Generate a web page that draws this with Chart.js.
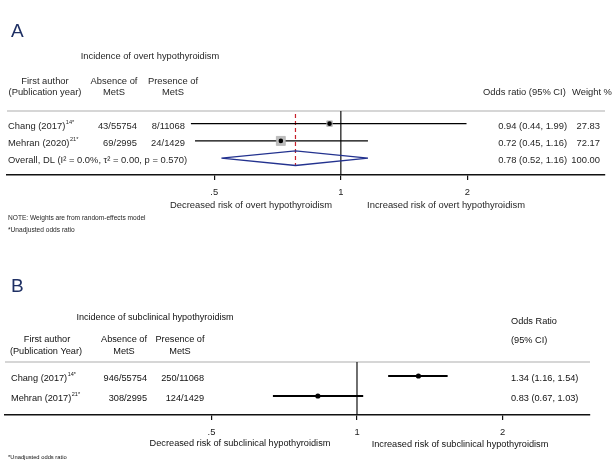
<!DOCTYPE html>
<html>
<head>
<meta charset="utf-8">
<script src="https://cdn.jsdelivr.net/npm/chart.js@4.4.1/dist/chart.umd.min.js"></script>
<style>
  html, body { margin: 0; padding: 0; background: #fff; }
  #wrap { position: relative; width: 613px; height: 461px; }
  #wrap canvas { position: absolute; left: 0; top: 0; }
</style>
</head>
<body>
<div id="wrap">
  <canvas id="chartA" width="613" height="461"></canvas>
  <canvas id="chartB" width="613" height="461"></canvas>
</div>
<script>
const FONT = '"Liberation Sans", Arial, sans-serif';

// 共用刻度
const tickValues = [0.5, 1, 2];
const tickLabels = ['.5', '1', '2'];

// A: overt hypothyroidism
const authorsA = ['Chang (2017)', 'Mehran (2020)'];
const refsA = ['14*', '21*'];
const absentA = ['43/55754', '69/2995'];
const presentA = ['8/11068', '24/1429'];
const orA = [0.94, 0.72];
const lowA = [0.44, 0.45];
const highA = [1.99, 1.16];
const weightA = [27.83, 72.17];
const pooledA = [0.78, 0.52, 1.16];   // or, low, high
const pooledWeightA = 100.00;
const hetA = ['0.0%', '0.00', '0.570'];  // I², tau², p

// B: subclinical hypothyroidism
const authorsB = ['Chang (2017)', 'Mehran (2017)'];
const refsB = ['14*', '21*'];
const absentB = ['946/55754', '308/2995'];
const presentB = ['250/11068', '124/1429'];
const orB = [1.34, 0.83];
const lowB = [1.16, 0.67];
const highB = [1.54, 1.03];

function fmtOR(o, l, h) {
  return o.toFixed(2) + ' (' + l.toFixed(2) + ', ' + h.toFixed(2) + ')';
}

function xScale(min, max) {
  return {
    type: 'logarithmic',
    min: min,
    max: max,
    afterBuildTicks: s => { s.ticks = tickValues.map(v => ({ value: v })); },
    afterFit: s => { s.height = 30; },
    grid: { drawOnChartArea: false, drawTicks: true, tickLength: 5, color: '#111', lineWidth: 1.2 },
    border: { display: true, color: '#111', width: 1.4 },
    ticks: {
      autoSkip: false, maxRotation: 0, padding: 7, color: '#222',
      font: { family: FONT, size: 9.4 },
      callback: (v, i) => tickLabels[i]
    }
  };
}

// 置信区间线 + 点估计（可选权重方框）
function studySets(or, low, high, weight, lineW, dotR) {
  const sets = [];
  sets.push({
    data: or.map((v, i) => ({ x: v, y: i + 1 })),
    pointStyle: 'circle', pointRadius: dotR, backgroundColor: '#000', borderWidth: 0
  });
  if (weight) {
    sets.push({
      data: or.map((v, i) => ({ x: v, y: i + 1 })),
      pointStyle: 'rect', pointRadius: weight.map(w => 0.75 * Math.sqrt(w)),
      backgroundColor: '#bdbdbd', borderColor: '#a8a8a8', borderWidth: 0.6
    });
  }
  low.forEach((lo, i) => {
    sets.push({
      data: [{ x: lo, y: i + 1 }, { x: high[i], y: i + 1 }],
      showLine: true, borderColor: '#000', borderWidth: lineW, pointRadius: 0
    });
  });
  return sets;
}

function supText(ctx, base, s, x, y, size) {
  ctx.textAlign = 'left';
  ctx.font = size + 'px ' + FONT;
  ctx.fillText(base, x, y);
  const w = ctx.measureText(base).width;
  ctx.font = (size * 0.6) + 'px ' + FONT;
  ctx.fillText(s, x + w + 0.5, y - size * 0.38);
}

function txt(ctx, s, x, y, align, size, color) {
  ctx.font = size + 'px ' + FONT;
  ctx.textAlign = align;
  ctx.fillStyle = color || '#262626';
  ctx.fillText(s, x, y);
}

// ---------- 图 A ----------
const yMinA = 0.27, yMaxA = 3.97;
const setsA = studySets(orA, lowA, highA, weightA, 1.3, 2.3);
setsA.push({
  data: [
    { x: pooledA[1], y: 3 }, { x: pooledA[0], y: 3 - 0.42 },
    { x: pooledA[2], y: 3 }, { x: pooledA[0], y: 3 + 0.42 }, { x: pooledA[1], y: 3 }
  ],
  showLine: true, borderColor: '#23328f', borderWidth: 1.3, pointRadius: 0, fill: false
});
setsA.push({
  data: [{ x: pooledA[0], y: 0.44 }, { x: pooledA[0], y: 3.45 }],
  showLine: true, borderColor: '#c8202a', borderWidth: 1.2, borderDash: [4, 3], pointRadius: 0
});
setsA.push({
  data: [{ x: 1, y: yMinA }, { x: 1, y: yMaxA }],
  showLine: true, borderColor: '#111', borderWidth: 1.2, pointRadius: 0
});

const textA = {
  id: 'textA',
  beforeDatasetsDraw(chart) {
    const ctx = chart.ctx, a = chart.chartArea;
    ctx.save();
    ctx.strokeStyle = '#c8c8c8';
    ctx.lineWidth = 1.5;
    ctx.beginPath();
    ctx.moveTo(a.left, a.top);
    ctx.lineTo(a.right, a.top);
    ctx.stroke();
    ctx.restore();
  },
  afterDraw(chart) {
    const ctx = chart.ctx, y = chart.scales.y;
    ctx.save();
    ctx.textBaseline = 'alphabetic';
    txt(ctx, 'A', 11, 37, 'left', 19, '#1f3064');
    ctx.textBaseline = 'middle';
    txt(ctx, 'Incidence of overt hypothyroidism', 150, 56, 'center', 9.3);
    txt(ctx, 'First author', 45, 81, 'center', 9.4);
    txt(ctx, '(Publication year)', 45, 92.5, 'center', 9.4);
    txt(ctx, 'Absence of', 114, 81, 'center', 9.4);
    txt(ctx, 'MetS', 114, 92.5, 'center', 9.4);
    txt(ctx, 'Presence of', 173, 81, 'center', 9.4);
    txt(ctx, 'MetS', 173, 92.5, 'center', 9.4);
    txt(ctx, 'Odds ratio (95% CI)', 483, 92, 'left', 9.4);
    txt(ctx, 'Weight %', 572, 92, 'left', 9.4);
    authorsA.forEach((name, i) => {
      const py = y.getPixelForValue(i + 1) + 2.5;
      ctx.fillStyle = '#262626';
      supText(ctx, name, refsA[i], 8, py, 9.4);
      txt(ctx, absentA[i], 137, py, 'right', 9.4);
      txt(ctx, presentA[i], 185, py, 'right', 9.4);
      txt(ctx, fmtOR(orA[i], lowA[i], highA[i]), 567, py, 'right', 9.4);
      txt(ctx, weightA[i].toFixed(2), 600, py, 'right', 9.4);
    });
    const py3 = y.getPixelForValue(3) + 2.5;
    txt(ctx, 'Overall, DL (I\u00b2 = ' + hetA[0] + ', \u03c4\u00b2 = ' + hetA[1] + ', p = ' + hetA[2] + ')', 8, py3, 'left', 9.4);
    txt(ctx, fmtOR(pooledA[0], pooledA[1], pooledA[2]), 567, py3, 'right', 9.4);
    txt(ctx, pooledWeightA.toFixed(2), 600, py3, 'right', 9.4);
    txt(ctx, 'Decreased risk of overt hypothyroidism', 251, 205.5, 'center', 9.4);
    txt(ctx, 'Increased risk of overt hypothyroidism', 446, 205.5, 'center', 9.4);
    txt(ctx, 'NOTE: Weights are from random-effects model', 8, 218.5, 'left', 6.6);
    txt(ctx, '*Unadjusted odds ratio', 8, 230, 'left', 6.6);
    ctx.restore();
  }
};

new Chart(document.getElementById('chartA'), {
  type: 'scatter',
  data: { datasets: setsA },
  options: {
    responsive: false,
    animation: false,
    layout: { padding: { left: 5, right: 8, top: 111, bottom: 461 - 175 - 30 } },
    plugins: { legend: { display: false }, tooltip: { enabled: false } },
    scales: {
      x: xScale(0.1607, 4.248),
      y: { type: 'linear', display: false, reverse: true, min: yMinA, max: yMaxA }
    }
  },
  plugins: [textA]
});

// ---------- 图 B ----------
const yMinB = 0.3, yMaxB = 2.95;
const setsB = studySets(orB, lowB, highB, null, 2, 2.6);
setsB.push({
  data: [{ x: 1, y: yMinB }, { x: 1, y: yMaxB }],
  showLine: true, borderColor: '#111', borderWidth: 1.2, pointRadius: 0
});

const textB = {
  id: 'textB',
  beforeDatasetsDraw(chart) {
    const ctx = chart.ctx, a = chart.chartArea;
    ctx.save();
    ctx.strokeStyle = '#d6d6d6';
    ctx.lineWidth = 2;
    ctx.beginPath();
    ctx.moveTo(a.left, a.top);
    ctx.lineTo(a.right, a.top);
    ctx.stroke();
    ctx.restore();
  },
  afterDraw(chart) {
    const ctx = chart.ctx, y = chart.scales.y;
    const c = '#111';
    ctx.save();
    ctx.textBaseline = 'alphabetic';
    txt(ctx, 'B', 11, 292, 'left', 19, '#1f3064');
    ctx.textBaseline = 'middle';
    txt(ctx, 'Incidence of subclinical hypothyroidism', 155, 317, 'center', 9.1, c);
    txt(ctx, 'First author', 47, 339, 'center', 9.2, c);
    txt(ctx, '(Publication Year)', 46, 351, 'center', 9.2, c);
    txt(ctx, 'Absence of', 124, 339, 'center', 9.2, c);
    txt(ctx, 'MetS', 124, 351, 'center', 9.2, c);
    txt(ctx, 'Presence of', 180, 339, 'center', 9.2, c);
    txt(ctx, 'MetS', 180, 351, 'center', 9.2, c);
    txt(ctx, 'Odds Ratio', 511, 321, 'left', 9.2, c);
    txt(ctx, '(95% CI)', 511, 340, 'left', 9.2, c);
    authorsB.forEach((name, i) => {
      const py = y.getPixelForValue(i + 1) + 2;
      ctx.fillStyle = c;
      supText(ctx, name, refsB[i], 11, py, 9.2);
      txt(ctx, absentB[i], 147, py, 'right', 9.2, c);
      txt(ctx, presentB[i], 204, py, 'right', 9.2, c);
      txt(ctx, fmtOR(orB[i], lowB[i], highB[i]), 511, py, 'left', 9.2, c);
    });
    txt(ctx, 'Decreased risk of subclinical hypothyroidism', 240, 443, 'center', 9.2, c);
    txt(ctx, 'Increased risk of subclinical hypothyroidism', 460, 444, 'center', 9.2, c);
    txt(ctx, '*Unadjusted odds ratio', 8, 457, 'left', 5.8, c);
    ctx.restore();
  }
};

new Chart(document.getElementById('chartB'), {
  type: 'scatter',
  data: { datasets: setsB },
  options: {
    responsive: false,
    animation: false,
    layout: { padding: { left: 5, right: 23, top: 362, bottom: 461 - 415 - 30 } },
    plugins: { legend: { display: false }, tooltip: { enabled: false } },
    scales: {
      x: xScale(0.187, 3.034),
      y: { type: 'linear', display: false, reverse: true, min: yMinB, max: yMaxB }
    }
  },
  plugins: [textB]
});
</script>
</body>
</html>
